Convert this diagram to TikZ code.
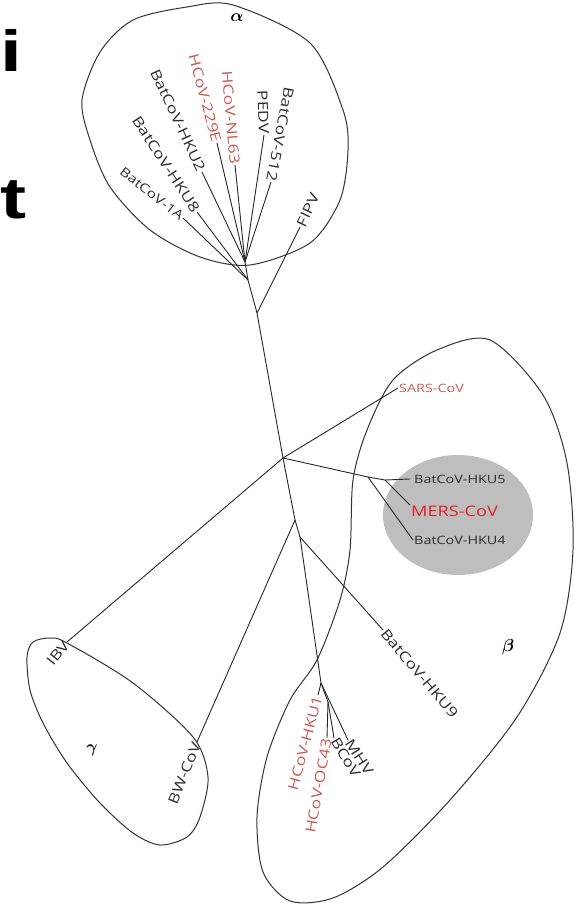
\documentclass[tikz,border=0pt]{standalone}
\usepackage{amsmath}
\usepackage{fontspec}
\setmainfont{Open Sans}
\newfontfamily\leaffont[FakeStretch=1.25]{Open Sans}
\newfontfamily\slidefont[FakeStretch=1.35]{Liberation Sans}
\usepackage{tikz}
\usetikzlibrary{positioning}

\definecolor{humanred}{RGB}{200,90,82}
\definecolor{mersred}{RGB}{230,30,36}
\definecolor{leafgray}{RGB}{45,45,45}
\definecolor{clustergray}{RGB}{190,190,190}

\tikzset{
  branch/.style={line width=0.9pt, draw=black!85},
  hull/.style={line width=1pt, draw=black!80},
  leaf/.style={inner sep=1pt, font=\leaffont\fontsize{14}{16}\selectfont, text=leafgray},
  small leaf/.style={leaf, font=\leaffont\fontsize{11.5}{13}\selectfont},
  human/.style={leaf, text=humanred},
  clade/.style={font=\fontsize{16}{18}\selectfont},
  bigletter/.style={inner sep=0pt, font=\slidefont\bfseries\fontsize{58}{60}\selectfont},
}

\begin{document}
\begin{tikzpicture}[x=1pt, y=-1pt]
\useasboundingbox (0,0) rectangle (577,904);

% --- cut-off slide text on the left ---
\node[bigletter, anchor=base west] (slidei) at (0,72) {i};
\node[bigletter, anchor=base west] (slidet) at (0,218) {t};

% --- clade outlines ---
\fill[clustergray] (458,515) ellipse [x radius=75, y radius=60];
\draw[hull] plot[smooth cycle] coordinates {
  (233,5) (310,43) (343,110) (348,150) (340,200) (310,243) (250,265)
  (200,257) (150,230) (110,187) (90,140) (82,100) (100,52) (133,20) (187,7)};
\draw[hull] plot[smooth cycle] coordinates {
  (490,340) (543,395) (567,463) (573,550) (560,633) (517,717) (450,800)
  (383,867) (333,898) (290,901) (263,872) (257,817) (267,757) (290,700)
  (317,660) (340,600) (350,550) (353,480) (367,430) (393,380) (437,350)};
\draw[hull] plot[smooth cycle] coordinates {
  (50,638) (67,643) (133,683) (193,737) (208,777) (200,817) (187,837)
  (160,845) (133,833) (100,803) (67,763) (43,723) (30,690) (27,657) (33,642)};

% --- clade names ---
\node[clade] (alpha) at (237,18) {$\boldsymbol{\alpha}$};
\node[clade] (beta) at (508,647) {$\boldsymbol{\beta}$};
\node[clade] (gamma) at (92,750) {$\boldsymbol{\gamma}$};

% --- internal nodes of the tree ---
\coordinate (ja) at (245,262);
\coordinate (ja2) at (248,280);
\coordinate (jf) at (257,313);
\coordinate (root) at (283,458);
\coordinate (jm) at (368,477);
\coordinate (jm2) at (385,480);
\coordinate (jb1) at (295,520);
\coordinate (jb2) at (300,537);
\coordinate (jb3) at (321,683);
\coordinate (jb4) at (328,702);

% --- alpha leaves ---
\coordinate (t1a) at (183,218);
\coordinate (thku8) at (197,212);
\coordinate (thku2) at (202,172);
\coordinate (t229e) at (217,143);
\coordinate (tnl63) at (235,165);
\coordinate (tpedv) at (264,135);
\coordinate (t512) at (271,182);
\coordinate (tfipv) at (300,227);
\node[leaf, rotate=-38, anchor=east, font=\leaffont\fontsize{12.5}{14}\selectfont] (l1a) at (t1a) {BatCoV-1A};
\node[leaf, rotate=-57, anchor=east] (lhku8) at (thku8) {BatCoV-HKU8};
\node[leaf, rotate=-65, anchor=east] (lhku2) at (thku2) {BatCoV-HKU2};
\node[human, rotate=-75, anchor=east] (l229e) at (t229e) {HCoV-229E};
\node[human, rotate=-85, anchor=east] (lnl63) at (tnl63) {HCoV-NL63};
\node[leaf, rotate=-88, anchor=east] (lpedv) at (tpedv) {PEDV};
\node[leaf, rotate=-101, anchor=east] (l512) at (t512) {BatCoV-512};
\node[leaf, rotate=65, anchor=west] (lfipv) at (tfipv) {FIPV};

% --- beta and gamma leaves ---
\coordinate (tsars) at (398,388);
\coordinate (thku5) at (410,479);
\coordinate (tmers) at (410,505);
\coordinate (thku4) at (413,540);
\coordinate (thku9) at (383,630);
\coordinate (thku1) at (318,695);
\coordinate (toc43) at (327,738);
\coordinate (tbcov) at (334,738);
\coordinate (tmhv) at (348,740);
\coordinate (tibv) at (67,642);
\coordinate (tbw) at (197,742);
\node[small leaf, text=humanred, anchor=west] (lsars) at (tsars) {SARS-CoV};
\node[small leaf, anchor=west] (lhku5) at ([xshift=3pt]thku5) {BatCoV-HKU5};
\node[leaf, anchor=west, text=mersred, font=\leaffont\fontsize{14.5}{16}\selectfont] (lmers) at ([yshift=-6pt]tmers) {MERS-CoV};
\node[small leaf, anchor=west] (lhku4) at (thku4) {BatCoV-HKU4};
\node[leaf, rotate=-50, anchor=west] (lhku9) at (thku9) {BatCoV-HKU9};
\node[human, rotate=75, anchor=east] (lhku1) at (thku1) {HCoV-HKU1};
\node[human, rotate=80, anchor=east] (loc43) at (toc43) {HCoV-OC43};
\node[leaf, rotate=-59, anchor=west] (lbcov) at (tbcov) {BCoV};
\node[leaf, rotate=-57, anchor=west] (lmhv) at (tmhv) {MHV};
\node[leaf, rotate=51, anchor=east] (libv) at (tibv) {IBV};
\node[leaf, rotate=68, anchor=east] (lbw) at (tbw) {BW-CoV};

% --- branches ---
\foreach \a/\b in {t1a/ja2, thku8/ja2, thku2/ja, t229e/ja, tnl63/ja, tpedv/ja, t512/ja,
                   ja/ja2, ja2/jf, tfipv/jf, jf/root}
  \draw[branch] (\a) -- (\b);
\foreach \a/\b in {root/tsars, root/tibv, root/jm, jm/jm2, jm2/thku5, jm2/tmers, jm/thku4,
                   root/jb1, jb1/tbw, jb1/jb2, jb2/thku9, jb2/jb3, jb3/thku1, jb3/jb4,
                   jb4/toc43, jb4/tbcov, jb3/tmhv}
  \draw[branch] (\a) -- (\b);

\end{tikzpicture}
\end{document}
